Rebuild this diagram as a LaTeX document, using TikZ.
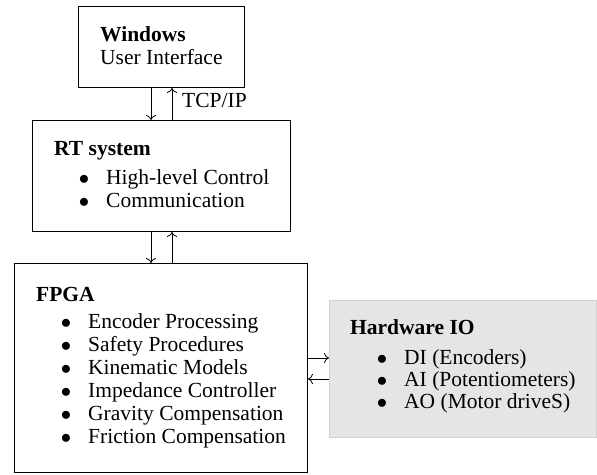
\documentclass[tikz,border=0pt]{standalone}
\usepackage{fontspec}
\setmainfont{Liberation Serif}
\usetikzlibrary{arrows.meta}
\begin{document}
\begin{tikzpicture}[x=1pt,y=-1pt,
  box/.style={draw=black,line width=0.9pt,anchor=north west,inner sep=0pt},
  hwbox/.style={draw=black!18,fill=black!10,line width=0.9pt,anchor=north west,inner sep=0pt},
  txt/.style={anchor=base west,inner sep=0pt,font=\fontsize{21.5}{23}\selectfont},
  ttl/.style={txt,font=\fontsize{21.5}{23}\selectfont\bfseries},
  bul/.style={anchor=base,inner sep=0pt,font=\fontsize{21.5}{23}\selectfont},
  conn/.style={-{Computer Modern Rightarrow[length=5pt,width=10pt]},line width=0.8pt}]
\useasboundingbox (0,0) rectangle (597,474);
% boxes
\node[box,minimum width=166pt,minimum height=81pt] (win) at (78,6) {};
\node[box,minimum width=258pt,minimum height=111pt] (rt) at (32,120) {};
\node[box,minimum width=293pt,minimum height=209pt] (fpga) at (14,263) {};
\node[hwbox,minimum width=267pt,minimum height=137pt] (hw) at (329,300) {};
% Windows
\node[ttl] (wt) at (100,41) {Windows};
\node[txt] (wu) at (100,64) {User Interface};
% RT
\node[ttl] (rtt) at (54,155) {RT system};
\node[bul] (rb1) at (84,184) {$\bullet$};
\node[txt] (r1) at (106,184) {High-level Control};
\node[bul] (rb2) at (84,207) {$\bullet$};
\node[txt] (r2) at (106,207) {Communication};
% FPGA
\node[ttl] (ft) at (36,301) {FPGA};
\node[bul] (fb1) at (66,328) {$\bullet$};
\node[txt] (f1) at (88,328) {Encoder Processing};
\node[bul] (fb2) at (66,351) {$\bullet$};
\node[txt] (f2) at (88,351) {Safety Procedures};
\node[bul] (fb3) at (66,374) {$\bullet$};
\node[txt] (f3) at (88,374) {Kinematic Models};
\node[bul] (fb4) at (66,397) {$\bullet$};
\node[txt] (f4) at (88,397) {Impedance Controller};
\node[bul] (fb5) at (66,420) {$\bullet$};
\node[txt] (f5) at (88,420) {Gravity Compensation};
\node[bul] (fb6) at (66,443) {$\bullet$};
\node[txt] (f6) at (88,443) {Friction Compensation};
% Hardware IO
\node[ttl] (ht) at (350,334) {Hardware IO};
\node[bul] (hb1) at (382,364) {$\bullet$};
\node[txt] (h1) at (404,364) {DI (Encoders)};
\node[bul] (hb2) at (382,386) {$\bullet$};
\node[txt] (h2) at (404,386) {AI (Potentiometers)};
\node[bul] (hb3) at (382,408) {$\bullet$};
\node[txt] (h3) at (404,408) {AO (Motor driveS)};
% connectors
\coordinate (xd) at (151,0);
\coordinate (xu) at (172,0);
\coordinate (yr) at (0,358);
\coordinate (yl) at (0,379);
\draw[conn] (win.south -| xd) -- (rt.north -| xd);
\draw[conn] (rt.north -| xu) -- (win.south -| xu);
\node[txt] (tcp) at (182,107) {TCP/IP};
\draw[conn] (rt.south -| xd) -- (fpga.north -| xd);
\draw[conn] (fpga.north -| xu) -- (rt.south -| xu);
\draw[conn] (fpga.east |- yr) -- (hw.west |- yr);
\draw[conn] (hw.west |- yl) -- (fpga.east |- yl);
\end{tikzpicture}
\end{document}
